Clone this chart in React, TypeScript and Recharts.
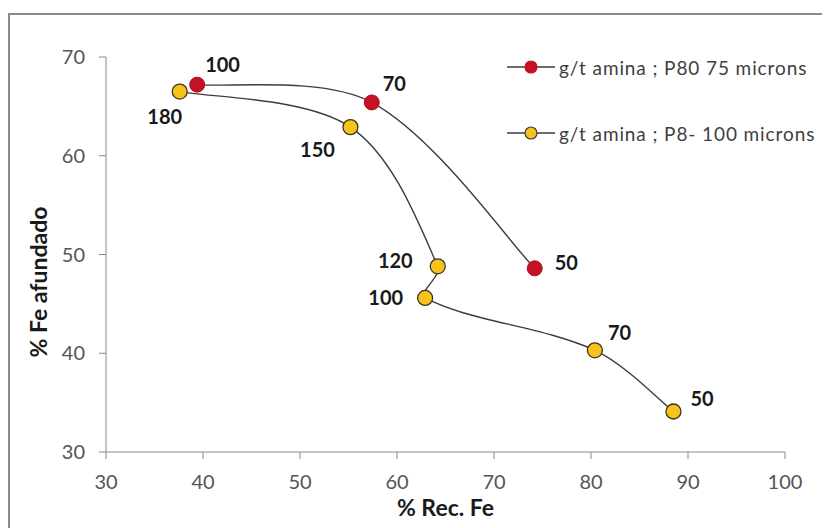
import { Legend, Line, LineChart, XAxis, YAxis, LabelList } from "recharts";

// P80 75 microns (red)
const redRecovery = [39.4, 57.4, 74.2];
const redGrade = [67.2, 65.4, 48.6];
const redDosage = [100, 70, 50];

// P8- 100 microns (yellow)
const yellowRecovery = [37.6, 55.2, 64.2, 62.9, 80.4, 88.5];
const yellowGrade = [66.5, 62.9, 48.8, 45.6, 40.3, 34.1];
const yellowDosage = [180, 150, 120, 100, 70, 50];

const xTicks = [30, 40, 50, 60, 70, 80, 90, 100];
const yTicks = [30, 40, 50, 60, 70];

const seriesNames = ["g/t amina ; P80 75 microns", "g/t amina ; P8- 100 microns"];

const redData = redRecovery.map((x, i) => ({ x, y: redGrade[i], dose: redDosage[i] }));
const yellowData = yellowRecovery.map((x, i) => ({ x, y: yellowGrade[i], dose: yellowDosage[i] }));

// label placement next to each point (dx, dy, anchor)
const redLabelPos: [number, number, string][] = [
  [8, -21, "start"],
  [11, -19, "start"],
  [20, -6, "start"],
];
const yellowLabelPos: [number, number, string][] = [
  [-15, 24, "middle"],
  [-33, 22, "middle"],
  [-25, -6, "end"],
  [-22, -1, "end"],
  [13, -18, "start"],
  [17, -14, "start"],
];

const FONT = "Lato, 'Open Sans', sans-serif";
const RED = "#c41128";
const YELLOW = "#f6c21c";
const LINE = "#3c3c3c";
const AXIS = "#8a8a8a";

// smoothed line like the spreadsheet one: handles scaled by segment length
function excelSmooth(context: any) {
  let pts: number[][] = [];
  const dist = (a: number[], b: number[]) => Math.hypot(b[0] - a[0], b[1] - a[1]);
  return {
    areaStart() {},
    areaEnd() {},
    lineStart() {
      pts = [];
    },
    point(x: number, y: number) {
      pts.push([+x, +y]);
    },
    lineEnd() {
      const n = pts.length;
      if (!n) return;
      context.moveTo(pts[0][0], pts[0][1]);
      // tangent + handle factors per point
      const handles = pts.map((p, i) => {
        const prev = pts[i - 1] || p;
        const next = pts[i + 1] || p;
        const tx = next[0] - prev[0];
        const ty = next[1] - prev[1];
        let lin = dist(prev, p);
        let lout = dist(p, next);
        if (i === 0 || i === n - 1) {
          lin = lout = 1;
        }
        const sum = lin + lout || 1;
        return { tx, ty, fin: lin / sum / 3, fout: lout / sum / 3 };
      });
      for (let i = 0; i < n - 1; i++) {
        const p1 = pts[i];
        const p2 = pts[i + 1];
        const h1 = handles[i];
        const h2 = handles[i + 1];
        context.bezierCurveTo(
          p1[0] + h1.tx * h1.fout,
          p1[1] + h1.ty * h1.fout,
          p2[0] - h2.tx * h2.fin,
          p2[1] - h2.ty * h2.fin,
          p2[0],
          p2[1]
        );
      }
    },
  };
}

const makeLabel = (pos: [number, number, string][]) => (props: any) => {
  const { x, y, value, index } = props;
  const [dx, dy, anchor] = pos[index] || [10, -10, "start"];
  return (
    <text
      x={x + dx}
      y={y + dy}
      textAnchor={anchor as any}
      dominantBaseline="central"
      fontFamily={FONT}
      fontWeight={700}
      fontSize={20}
      fill="#1a1a1a"
    >
      {value}
    </text>
  );
};

const renderLegend = () => (
  <div style={{ fontFamily: FONT, fontSize: 19, letterSpacing: 0.9, color: "#404040", whiteSpace: "nowrap" }}>
    {seriesNames.map((name, i) => (
      <div key={name} style={{ display: "flex", alignItems: "center", height: 66 }}>
        <svg width={54} height={20} style={{ marginRight: 3, flexShrink: 0 }}>
          <line x1={5} y1={10} x2={53} y2={10} stroke={LINE} strokeWidth={1.5} />
          <circle
            cx={29}
            cy={10}
            r={6}
            fill={i === 0 ? RED : YELLOW}
            stroke={i === 0 ? RED : LINE}
            strokeWidth={1.2}
          />
        </svg>
        <span>{name}</span>
      </div>
    ))}
  </div>
);

export default function App() {
  return (
    <div style={{ position: "relative", width: 822, height: 520, overflow: "hidden" }}>
      <div
        style={{
          position: "absolute",
          left: 0,
          top: 5,
          right: -10,
          bottom: -10,
          borderTop: `2px solid ${AXIS}`,
          borderLeft: `2px solid ${AXIS}`,
        }}
      />
      <LineChart width={822} height={520} margin={{ top: 49, right: 45, left: 18, bottom: 26 }}>
        <XAxis
          type="number"
          dataKey="x"
          domain={[30, 100]}
          ticks={xTicks}
          allowDuplicatedCategory={false}
          height={50}
          stroke={AXIS}
          tickSize={7}
          tickMargin={16}
          tick={{ fontSize: 20, fill: "#555555", fontFamily: FONT }}
          label={(p: any) => {
            const vb = p.viewBox;
            return (
              <text
                x={vb.x + vb.width / 2}
                y={499}
                textAnchor="middle"
                dominantBaseline="central"
                fontFamily={FONT}
                fontWeight={700}
                fontSize={23}
                fill="#1a1a1a"
              >
                % Rec. Fe
              </text>
            );
          }}
        />
        <YAxis
          type="number"
          dataKey="y"
          domain={[30, 70]}
          ticks={yTicks}
          width={80}
          stroke={AXIS}
          tickSize={7}
          tickMargin={14}
          tick={{ fontSize: 20, fill: "#555555", fontFamily: FONT }}
          label={(p: any) => {
            const vb = p.viewBox;
            const cx = vb.x + 12;
            const cy = 274;
            return (
              <text
                x={cx}
                y={cy}
                transform={`rotate(-90 ${cx} ${cy})`}
                textAnchor="middle"
                dominantBaseline="central"
                fontFamily={FONT}
                fontWeight={700}
                fontSize={23}
                fill="#1a1a1a"
              >
                % Fe afundado
              </text>
            );
          }}
        />
        <Legend
          layout="vertical"
          align="center"
          verticalAlign="middle"
          wrapperStyle={{ top: 26, left: 494, width: 340 }}
          content={renderLegend}
        />
        <Line
          data={redData}
          dataKey="y"
          name={seriesNames[0]}
          type={excelSmooth as any}
          stroke={LINE}
          strokeWidth={1.4}
          dot={{ r: 7.5, fill: RED, stroke: "#b0101f", strokeWidth: 1 }}
          activeDot={false}
          isAnimationActive={false}
        >
          <LabelList dataKey="dose" content={makeLabel(redLabelPos)} />
        </Line>
        <Line
          data={yellowData}
          dataKey="y"
          name={seriesNames[1]}
          type={excelSmooth as any}
          stroke={LINE}
          strokeWidth={1.4}
          dot={{ r: 7.5, fill: YELLOW, stroke: "#3a3320", strokeWidth: 1.3 }}
          activeDot={false}
          isAnimationActive={false}
        >
          <LabelList dataKey="dose" content={makeLabel(yellowLabelPos)} />
        </Line>
      </LineChart>
    </div>
  );
}
